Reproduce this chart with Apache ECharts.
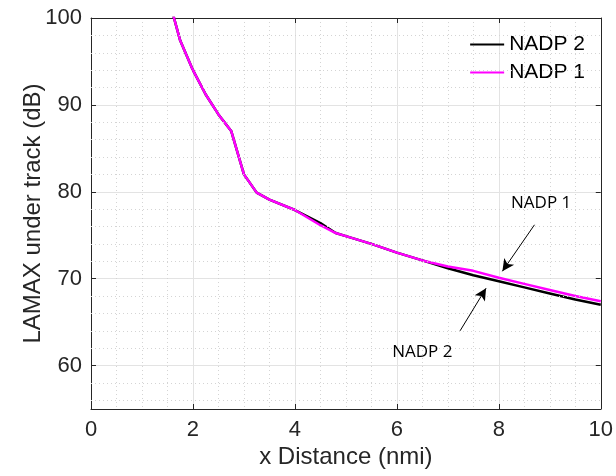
<!DOCTYPE html>
<html>
<head>
<meta charset="utf-8">
<script src="https://cdn.jsdelivr.net/npm/echarts@6/dist/echarts.min.js"></script>
<style>html,body{margin:0;padding:0;background:#fff;}#chart{width:616px;height:476px;}</style>
</head>
<body>
<div id="chart"></div>
<script>
// Distances (nmi)
const xDistance = [1.6, 1.75, 2.0, 2.25, 2.5, 2.75, 3.0, 3.25, 3.5, 4.0, 4.5, 4.8, 5.0, 5.5, 6.0, 6.5, 7.0, 7.5, 8.0, 8.5, 9.0, 9.5, 10.0];
// LAMAX under track (dB)
const nadp2 = [100.6, 97.4, 94.0, 91.2, 88.9, 87.0, 82.0, 79.9, 79.1, 77.9, 76.4, 75.25, 74.9, 74.0, 73.0, 72.1, 71.2, 70.4, 69.7, 69.0, 68.3, 67.6, 67.0];
const nadp1 = [100.6, 97.4, 94.0, 91.2, 88.9, 87.0, 82.0, 79.9, 79.1, 77.9, 76.15, 75.25, 74.9, 74.0, 73.0, 72.1, 71.4, 70.9, 70.1, 69.4, 68.7, 68.0, 67.4];
const yMinorLines = [56, 58, 62, 64, 66, 68, 72, 74, 76, 78, 82, 84, 86, 88, 92, 94, 96, 98];
const seriesNames = ['NADP 2', 'NADP 1'];
// annotations: [label, textX, textY, arrowFromX, arrowFromY, arrowToX, arrowToY]
const notes = [
  ['NADP 1', 8.83, 78.7, 8.70, 76.2, 8.07, 70.85],
  ['NADP 2', 6.50, 61.5, 7.24, 64.0, 7.75, 68.9]
];

const axisColor = '#262626';
const font = 'Liberation Sans, Arial, Helvetica, sans-serif';
const chart = echarts.init(document.getElementById('chart'), null, {renderer: 'canvas'});

const toPairs = ys => xDistance.map((x, i) => [x, ys[i]]);

chart.setOption({
  animation: false,
  backgroundColor: '#fff',
  grid: {left: 91, right: 13, top: 18, bottom: 67, containLabel: false},
  legend: {
    data: seriesNames,
    orient: 'vertical',
    right: 26, top: 29,
    itemWidth: 34, itemHeight: 2, itemGap: 7,
    icon: 'rect',
    textStyle: {fontFamily: font, fontSize: 21, color: '#000', padding: [0, 0, 0, 0]}
  },
  xAxis: [{
    type: 'value', min: 0, max: 10, interval: 2,
    name: 'x Distance (nmi)', nameLocation: 'middle', nameGap: 36, nameMoveOverlap: false,
    nameTextStyle: {fontFamily: font, fontSize: 24, color: axisColor},
    axisLine: {show: true, onZero: false, lineStyle: {color: axisColor, width: 1}},
    axisTick: {show: true, inside: true, length: 5, lineStyle: {color: axisColor}},
    axisLabel: {fontFamily: font, fontSize: 22, color: axisColor, margin: 10},
    splitLine: {show: true, lineStyle: {color: '#e3e3e3', width: 1}},
    minorTick: {show: false, splitNumber: 4},
    minorSplitLine: {show: true, lineStyle: {color: '#d4d4d4', type: [1, 3], width: 1}}
  }, {
    type: 'value', min: 0, max: 10, interval: 2, position: 'top',
    axisLine: {show: true, onZero: false, lineStyle: {color: axisColor, width: 1}},
    axisTick: {show: true, inside: true, length: 5, lineStyle: {color: axisColor}},
    axisLabel: {show: false}, splitLine: {show: false}
  }],
  yAxis: [{
    type: 'value', min: 55, max: 100,
    name: 'LAMAX under track (dB)', nameLocation: 'middle', nameGap: 46, nameMoveOverlap: false,
    nameTextStyle: {fontFamily: font, fontSize: 24, color: axisColor},
    axisLine: {show: true, onZero: false, lineStyle: {color: axisColor, width: 1}},
    axisTick: {show: true, inside: true, length: 5, lineStyle: {color: axisColor}},
    axisLabel: {fontFamily: font, fontSize: 22, color: axisColor, margin: 9,
      formatter: v => (v % 10 === 0 ? String(v) : '')},
    splitLine: {show: true, lineStyle: {color: '#e3e3e3', width: 1}}
  }, {
    type: 'value', min: 55, max: 100, position: 'right',
    axisLine: {show: true, onZero: false, lineStyle: {color: axisColor, width: 1}},
    axisTick: {show: true, inside: true, length: 5, lineStyle: {color: axisColor}},
    axisLabel: {show: false}, splitLine: {show: false}
  }],
  series: [{
    name: 'gridMinor', type: 'line', data: [], z: 1, silent: true,
    markLine: {
      silent: true, symbol: ['none', 'none'], label: {show: false},
      lineStyle: {color: '#d4d4d4', type: [1, 3], width: 1},
      data: yMinorLines.map(v => ({yAxis: v}))
    }
  }, {
    name: seriesNames[0], type: 'line', data: toPairs(nadp2), z: 3,
    showSymbol: false, symbol: 'none', clip: true,
    lineStyle: {color: '#000000', width: 2.5}, itemStyle: {color: '#000000'}
  }, {
    name: seriesNames[1], type: 'line', data: toPairs(nadp1), z: 4,
    showSymbol: false, symbol: 'none', clip: true,
    lineStyle: {color: '#ff00ff', width: 2.5}, itemStyle: {color: '#ff00ff'},
    markLine: {
      silent: true, symbol: ['none', 'arrow'], symbolSize: [9, 12],
      label: {show: false},
      lineStyle: {color: '#000', width: 1, type: 'solid'},
      data: notes.map(n => [{coord: [n[3], n[4]]}, {coord: [n[5], n[6]]}])
    },
    markPoint: {
      silent: true, symbol: 'circle', symbolSize: 0,
      label: {show: true, position: 'inside', formatter: p => p.name,
        fontFamily: 'Open Sans, Noto Sans, sans-serif', fontSize: 17, color: '#000'},
      data: notes.map(n => ({name: n[0], coord: [n[1], n[2]]}))
    }
  }]
});
</script>
</body>
</html>
